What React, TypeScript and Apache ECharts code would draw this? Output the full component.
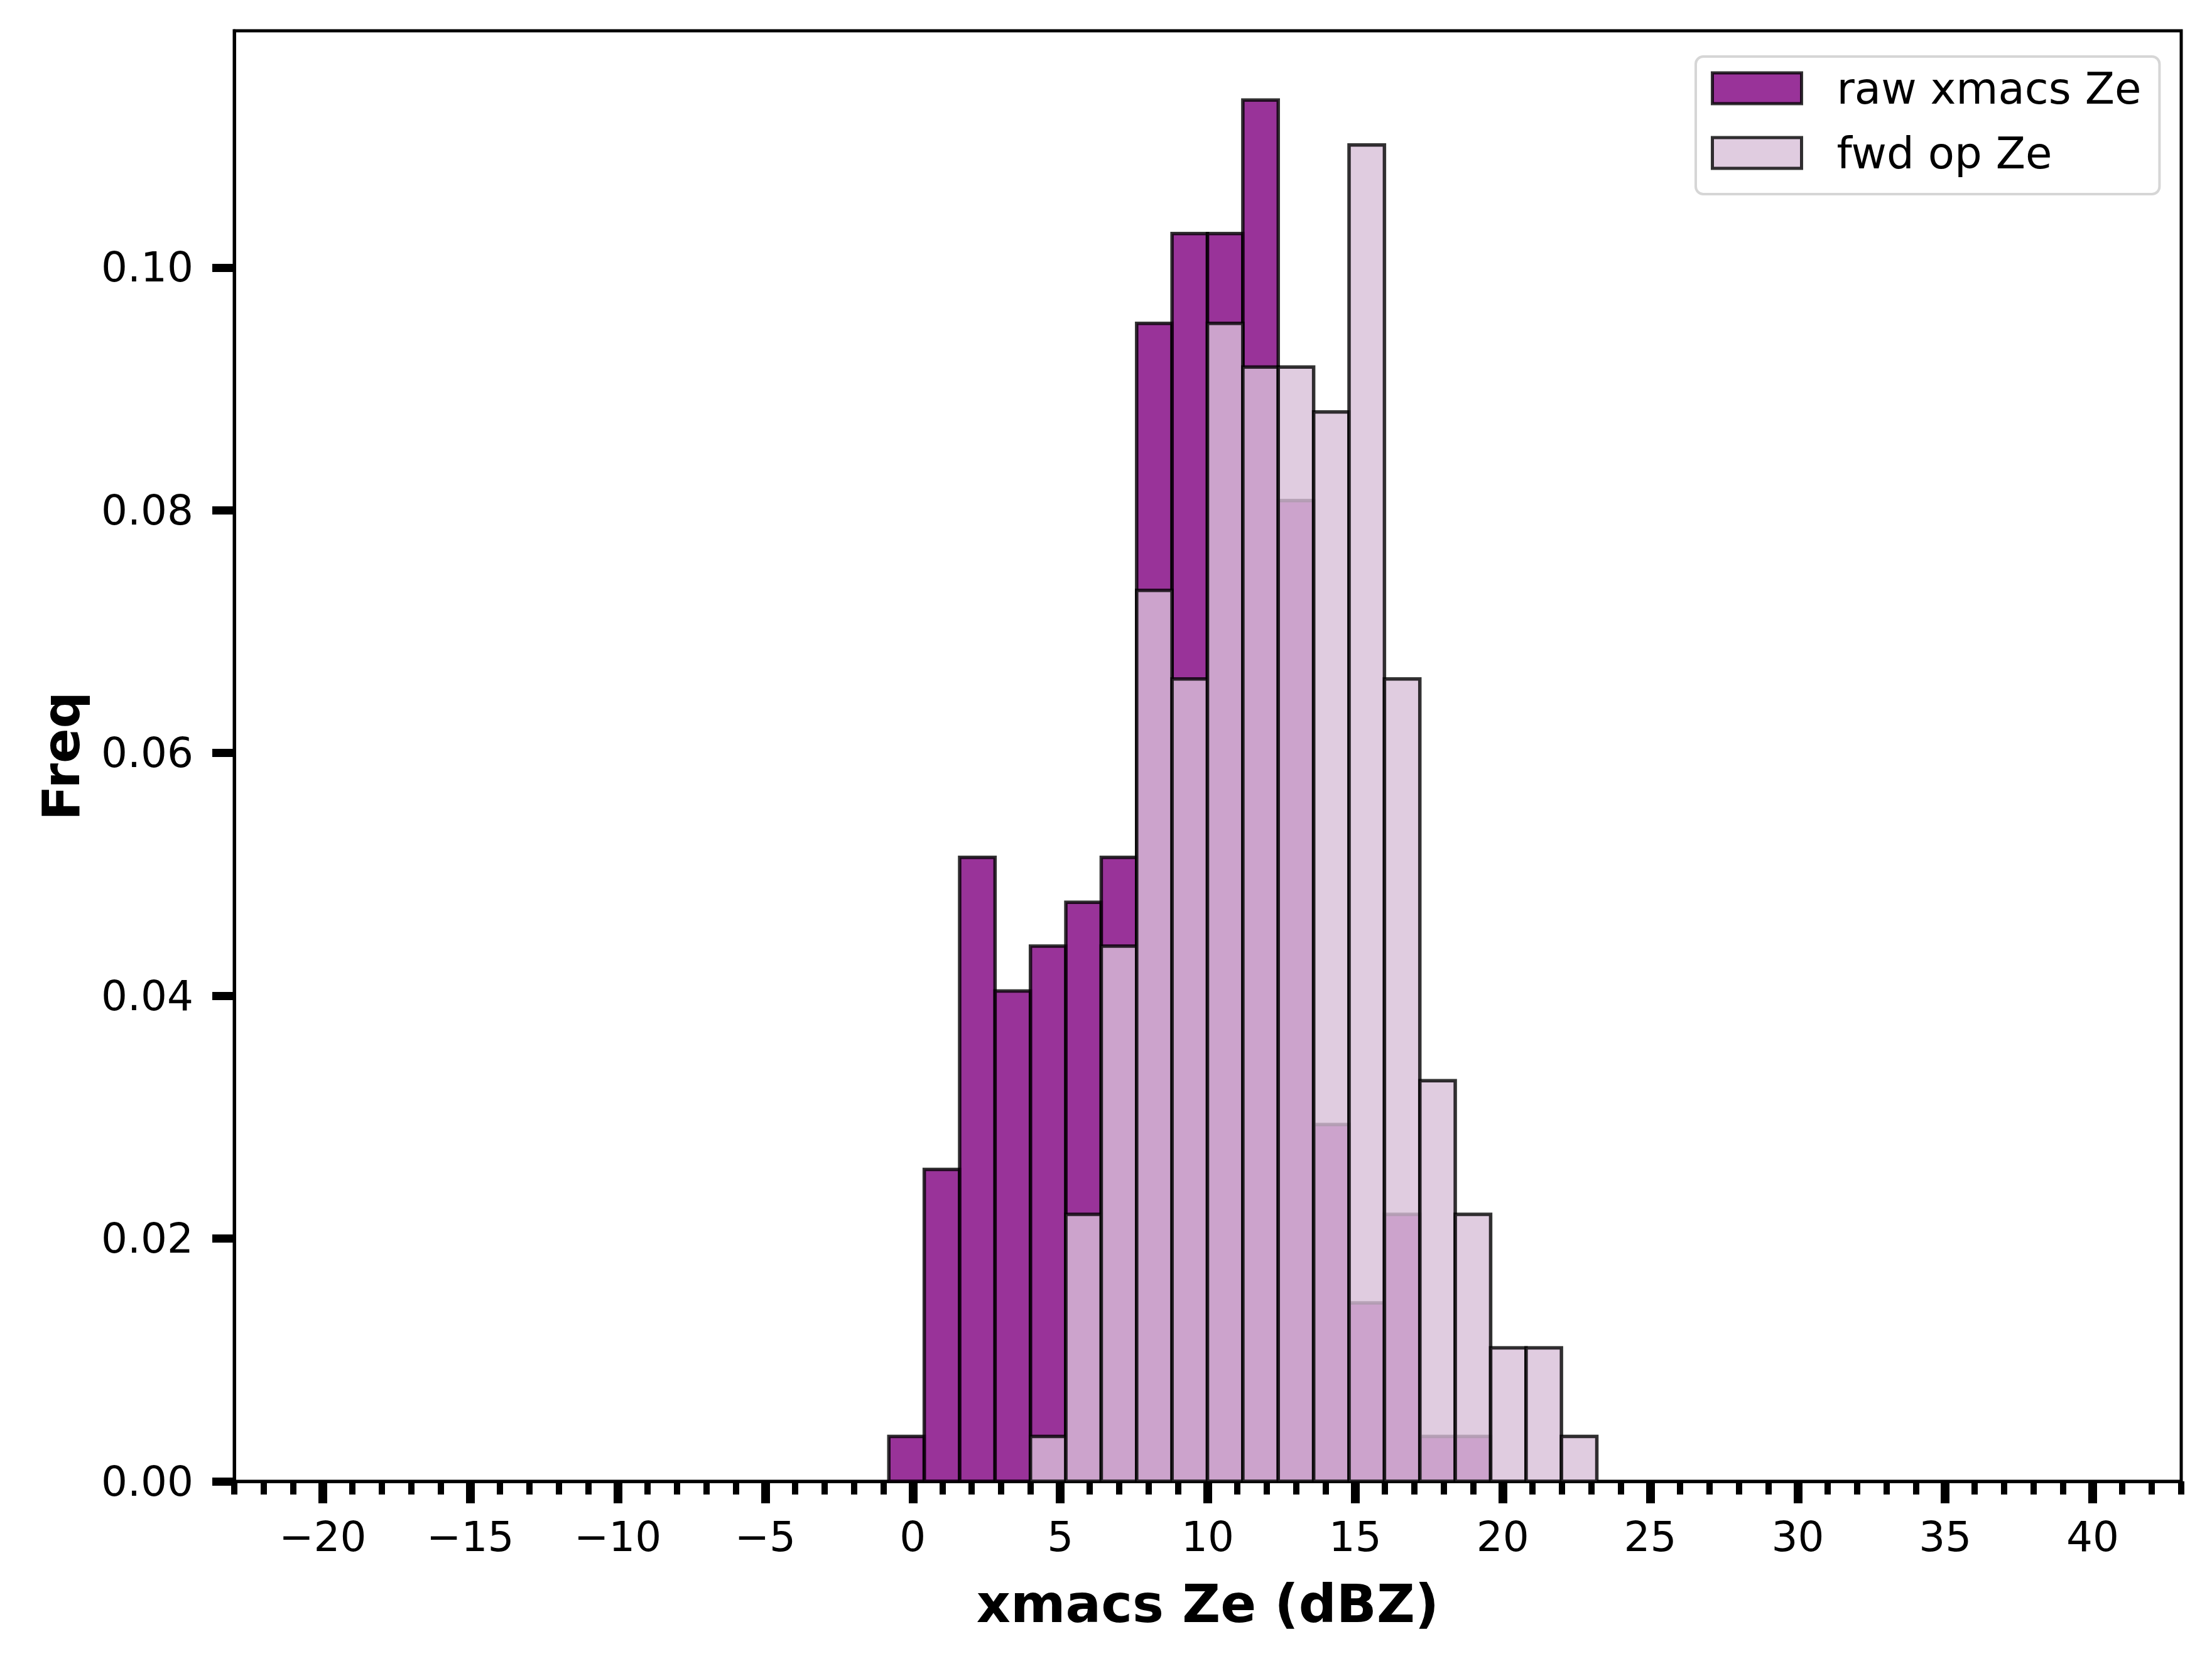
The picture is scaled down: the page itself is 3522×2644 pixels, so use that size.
import React, { useEffect, useRef } from "react";
import * as echarts from "echarts";

// Histogram bin edges (dBZ) shared by both series
const binEdges = [
  -0.81, 0.39, 1.59, 2.79, 3.99, 5.19, 6.39, 7.59, 8.79, 9.99, 11.19,
  12.39, 13.59, 14.79, 15.99, 17.19, 18.39, 19.59, 20.79, 21.99, 23.19,
];
// Density per bin ("Freq")
const rawFreq = [
  0.0037, 0.0257, 0.0514, 0.0404, 0.0441, 0.0477, 0.0514, 0.0954, 0.1028,
  0.1028, 0.1138, 0.0808, 0.0294, 0.0147, 0.022, 0.0037, 0.0037, 0, 0, 0,
];
const fwdFreq = [
  0, 0, 0, 0, 0.0037, 0.022, 0.0441, 0.0734, 0.0661, 0.0954, 0.0918, 0.0918,
  0.0881, 0.1101, 0.0661, 0.033, 0.022, 0.011, 0.011, 0.0037,
];
const seriesNames = ["raw xmacs Ze", "fwd op Ze"];
const xTickLabels = [-20, -15, -10, -5, 0, 5, 10, 15, 20, 25, 30, 35, 40];
const yTickValues = [0, 0.02, 0.04, 0.06, 0.08, 0.1];
const xRange = [-23, 43];
const yRange = [0, 0.1195];

const FONT = "DejaVu Sans";
const EDGE = "rgba(0,0,0,0.8)";
const RAW_FILL = "rgba(128,0,128,0.8)";
const FWD_FILL = "rgba(216,191,216,0.8)";

function toBins(values: number[]) {
  const out: number[][] = [];
  values.forEach((v, i) => {
    if (v > 0) out.push([binEdges[i], binEdges[i + 1], v]);
  });
  return out;
}

function makeRender(fill: string) {
  return (_params: any, api: any) => {
    const x0 = api.value(0);
    const x1 = api.value(1);
    const h = api.value(2);
    const p0 = api.coord([x0, h]);
    const p1 = api.coord([x1, 0]);
    return {
      type: "rect",
      shape: { x: p0[0], y: p0[1], width: p1[0] - p0[0], height: p1[1] - p0[1] },
      style: { fill, stroke: EDGE, lineWidth: 5.5 },
    };
  };
}

const fmtX = (v: number) => (v < 0 ? "\u2212" + Math.abs(v) : String(v));

export default function App() {
  const ref = useRef<HTMLDivElement>(null);
  useEffect(() => {
    if (!ref.current) return;
    const chart = echarts.init(ref.current, null, { renderer: "svg" });
    const minorTicks: number[] = [];
    for (let v = xRange[0]; v <= xRange[1]; v++) if (v % 5 !== 0) minorTicks.push(v);

    const option: any = {
      animation: false,
      backgroundColor: "#ffffff",
      grid: {
        left: 373,
        top: 49,
        right: 49,
        bottom: 286,
        show: true,
        borderColor: "#000",
        borderWidth: 5,
        backgroundColor: "transparent",
      },
      legend: {
        orient: "vertical",
        left: 2700,
        top: 90,
        icon: "rect",
        itemWidth: 142,
        itemHeight: 49,
        itemGap: 34,
        padding: [16, 29, 31, 24],
        backgroundColor: "rgba(255,255,255,0.8)",
        borderColor: "rgba(204,204,204,0.8)",
        borderWidth: 4,
        borderRadius: 12,
        selectedMode: false,
        textStyle: {
          fontFamily: FONT,
          fontSize: 69,
          color: "#000",
          padding: [0, 0, 0, 51],
        },
        data: [
          { name: seriesNames[0], itemStyle: { color: RAW_FILL, borderColor: EDGE, borderWidth: 5 } },
          { name: seriesNames[1], itemStyle: { color: FWD_FILL, borderColor: EDGE, borderWidth: 5 } },
        ],
      },
      xAxis: [
        {
          type: "value",
          min: xRange[0],
          max: xRange[1],
          name: "xmacs Ze (dBZ)",
          nameLocation: "middle",
          nameGap: 153,
          nameTextStyle: { fontFamily: FONT, fontSize: 84, fontWeight: "bold", color: "#000", lineHeight: 84 },
          axisLine: { show: true, onZero: false, lineStyle: { color: "#000", width: 5 } },
          axisTick: { show: true, customValues: xTickLabels, length: 35, lineStyle: { color: "#000", width: 14 } },
          axisLabel: {
            show: true,
            customValues: xTickLabels,
            formatter: fmtX,
            fontFamily: FONT,
            fontSize: 66,
            lineHeight: 66,
            color: "#000",
            margin: 55,
          },
          splitLine: { show: false },
        },
        {
          type: "value",
          gridIndex: 0,
          position: "bottom",
          min: xRange[0],
          max: xRange[1],
          axisLine: { show: false, onZero: false },
          axisTick: { show: true, customValues: minorTicks, length: 21, lineStyle: { color: "#000", width: 10 } },
          axisLabel: { show: false },
          splitLine: { show: false },
        },
      ],
      yAxis: {
        type: "value",
        min: yRange[0],
        max: yRange[1],
        name: "Freq",
        nameLocation: "middle",
        nameGap: 235,
        nameTextStyle: { fontFamily: FONT, fontSize: 82, fontWeight: "bold", color: "#000", lineHeight: 82 },
        axisLine: { show: true, onZero: false, lineStyle: { color: "#000", width: 5 } },
        axisTick: { show: true, customValues: yTickValues, length: 35, lineStyle: { color: "#000", width: 13 } },
        axisLabel: {
          show: true,
          customValues: yTickValues,
          formatter: (v: number) => v.toFixed(2),
          fontFamily: FONT,
          fontSize: 66,
          color: "#000",
          margin: 65,
        },
        splitLine: { show: false },
      },
      series: [
        {
          name: seriesNames[0],
          type: "custom",
          xAxisIndex: 0,
          yAxisIndex: 0,
          itemStyle: { color: RAW_FILL, borderColor: EDGE },
          encode: { x: [0, 1], y: 2 },
          renderItem: makeRender(RAW_FILL),
          data: toBins(rawFreq),
          z: 2,
        },
        {
          name: seriesNames[1],
          type: "custom",
          xAxisIndex: 0,
          yAxisIndex: 0,
          itemStyle: { color: FWD_FILL, borderColor: EDGE },
          encode: { x: [0, 1], y: 2 },
          renderItem: makeRender(FWD_FILL),
          data: toBins(fwdFreq),
          z: 3,
        },
      ],
    };
    chart.setOption(option);
    return () => chart.dispose();
  }, []);
  return (
    <div
      ref={ref}
      style={{ position: "absolute", left: 0, top: 0, width: 3522, height: 2644, background: "#fff" }}
    />
  );
}
